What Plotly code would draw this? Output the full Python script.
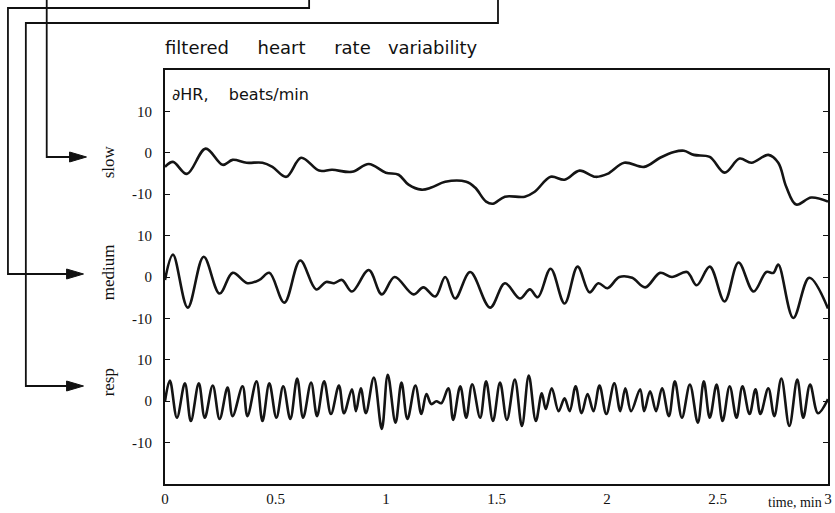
import plotly.graph_objects as go

# ---------------- data (time in minutes, dHR in beats/min) ----------------
slow_t = [0, 0.036, 0.099, 0.184, 0.261, 0.306, 0.369, 0.441, 0.486, 0.549,
          0.616, 0.697, 0.756, 0.846, 0.922, 0.999, 1.057,
          1.102, 1.160, 1.205, 1.268, 1.363, 1.403, 1.453, 1.484, 1.538, 1.628,
          1.673, 1.745, 1.808, 1.876, 1.948, 2.002,
          2.078, 2.168, 2.240, 2.303, 2.348, 2.393, 2.465, 2.532, 2.600, 2.654,
          2.730, 2.775, 2.811, 2.856, 2.924, 3.0]
slow_v = [-3.4, -2.2, -5.1, 1.0, -2.9, -1.7, -2.4, -2.4, -3.4, -5.8,
          -1.2, -4.3, -4.1, -4.6, -2.7, -4.8, -5.3,
          -7.7, -8.9, -8.4, -7.0, -7.0, -8.4, -11.8, -12.3, -10.6, -10.6,
          -9.4, -5.8, -6.5, -4.3, -5.8, -5.1,
          -2.4, -3.4, -1.2, 0.2, 0.5, -0.5, -1.0, -4.8, -1.4, -2.4,
          -0.5, -2.4, -8.2, -12.5, -10.8, -11.8]

medium_t = [0, 0.036, 0.103, 0.175, 0.247, 0.306, 0.373, 0.427, 0.472, 0.540,
            0.612, 0.684, 0.729, 0.765, 0.801, 0.846, 0.922, 0.981, 1.039, 1.124,
            1.169, 1.223, 1.268, 1.313, 1.381, 1.471, 1.538, 1.606, 1.651, 1.687,
            1.745, 1.808, 1.867, 1.921, 1.961, 2.002, 2.056, 2.114, 2.173, 2.240,
            2.294, 2.362, 2.406, 2.465, 2.532, 2.595, 2.663, 2.721, 2.753, 2.775,
            2.843, 2.915, 3.0]
medium_v = [-0.7, 5.4, -7.4, 4.9, -4.0, 1.0, -1.5, -0.7, 1.0, -6.2,
            4.0, -3.0, -1.2, -1.5, -0.7, -3.5, 1.7, -4.2, 0.0, -4.2,
            -2.5, -4.7, 0.0, -5.2, 1.2, -7.4, -1.5, -5.2, -3.0, -4.9,
            2.0, -6.4, 2.5, -3.7, -1.5, -2.7, 0.0, -0.2, -2.5, 1.0,
            0.0, 1.2, -2.0, 2.5, -5.9, 3.5, -3.5, 1.2, 1.0, 3.0,
            -9.9, -0.2, -7.6]

resp_t = [0, 0.022, 0.054, 0.090, 0.117, 0.153, 0.180, 0.216, 0.247, 0.283,
          0.306, 0.351, 0.373, 0.414, 0.441, 0.472, 0.504, 0.535, 0.567, 0.598,
          0.625, 0.661, 0.688, 0.720, 0.751, 0.787, 0.810, 0.846, 0.864, 0.886,
          0.909, 0.945, 0.981, 1.008, 1.043, 1.070, 1.097, 1.133, 1.160, 1.183,
          1.205, 1.228, 1.250, 1.282, 1.304, 1.336, 1.363, 1.390, 1.426, 1.453,
          1.484, 1.516, 1.547, 1.583, 1.615, 1.646, 1.678, 1.705, 1.723, 1.750,
          1.781, 1.808, 1.831, 1.858, 1.885, 1.912, 1.939, 1.966, 1.997, 2.033,
          2.060, 2.083, 2.109, 2.150, 2.168, 2.195, 2.222, 2.249, 2.280, 2.307,
          2.339, 2.375, 2.411, 2.438, 2.465, 2.496, 2.523, 2.555, 2.586, 2.613,
          2.645, 2.672, 2.694, 2.730, 2.757, 2.789, 2.825, 2.861, 2.888, 2.919,
          2.955, 3.0]
resp_v = [0.0, 5.0, -4.0, 4.3, -4.8, 4.3, -4.0, 3.8, -4.3, 3.3,
          -3.6, 3.6, -3.6, 4.8, -4.8, 4.3, -4.0, 3.6, -4.3, 5.5,
          -4.0, 4.5, -3.6, 4.8, -3.1, 3.8, -2.9, 2.9, -2.4, 3.1,
          -2.9, 5.7, -6.7, 6.4, -5.2, 4.5, -4.3, 3.8, -3.1, 1.7,
          -0.7, 0.0, -0.5, 3.1, -4.5, 3.6, -4.0, 4.1, -4.0, 4.8,
          -4.8, 4.5, -4.5, 5.2, -6.0, 6.2, -4.8, 1.9, -1.9, 3.1,
          -2.4, 0.7, -2.4, 3.6, -2.9, 1.7, -2.4, 3.8, -3.1, 4.3,
          -2.4, 3.1, -2.4, 2.9, -2.4, 2.4, -2.4, 3.1, -3.6, 4.8,
          -4.0, 4.0, -5.2, 4.8, -4.0, 4.0, -4.8, 3.6, -4.0, 3.6,
          -3.1, 2.9, -3.1, 3.1, -3.6, 5.5, -6.0, 5.2, -4.0, 4.0,
          -2.9, 0.5]

x_ticks = [0, 0.5, 1, 1.5, 2, 2.5, 3]
x_tick_labels = ["0", "0.5", "1", "1.5", "2", "2.5", "3"]
y_ticks = [10, 0, -10, -20, -30, -40, -50, -60, -70]
y_tick_labels = ["10", "0", "-10", "10", "0", "-10", "10", "0", "-10"]
band_names = ["slow", "medium", "resp"]
band_offsets = [0, -30, -60]

# ---------------- figure ----------------
W, H = 835, 513
L, R, T, B = 165, 832, 70, 484


def pxx(x):
    return (x - L) / (R - L)


def pyy(y):
    return (B - y) / (B - T)


fig = go.Figure()
series = [(slow_t, slow_v), (medium_t, medium_v), (resp_t, resp_v)]
for (t, v), off, name in zip(series, band_offsets, band_names):
    fig.add_trace(go.Scatter(
        x=t, y=[val + off for val in v], mode="lines", name=name,
        line=dict(color="#141414", width=2.6, shape="spline", smoothing=1.0),
        hoverinfo="skip"))

serif = "Liberation Serif, Times New Roman, serif"
sans = "DejaVu Sans, Verdana, sans-serif"

fig.update_layout(
    width=W, height=H,
    margin=dict(l=L, r=W - R, t=T, b=H - B, pad=0),
    paper_bgcolor="white", plot_bgcolor="white",
    showlegend=False,
    xaxis=dict(range=[0, 3], tickvals=x_ticks, ticktext=x_tick_labels,
               showgrid=False, zeroline=False, showline=True, linecolor="#111",
               linewidth=2, mirror=True, ticks="",
               tickfont=dict(family=serif, size=15, color="#111")),
    yaxis=dict(range=[-80, 20], tickvals=y_ticks, ticktext=y_tick_labels,
               showgrid=False, zeroline=False, showline=True, linecolor="#111",
               linewidth=2, mirror="ticks", ticks="inside", ticklen=5,
               tickwidth=1.2, tickcolor="#111", ticklabelstandoff=8,
               tickfont=dict(family=serif, size=15, color="#111")),
)

nb = "\u00a0"
annotations = [
    dict(text="filtered" + nb * 4 + " heart" + nb * 4 + " rate" + nb * 2
         + " variability",
         xref="paper", yref="paper", x=pxx(163), y=pyy(48),
         xanchor="left", yanchor="middle", showarrow=False,
         font=dict(family=sans, size=18, color="#111")),
    dict(text="\u2202HR," + nb * 3 + " beats/min", xref="paper", yref="paper",
         x=pxx(170), y=pyy(94), xanchor="left", yanchor="middle",
         showarrow=False, font=dict(family=sans, size=16, color="#111")),
    dict(text="time, min", xref="paper", yref="paper", x=pxx(828),
         y=pyy(502), xanchor="right", yanchor="middle", showarrow=False,
         font=dict(family=serif, size=14, color="#111")),
]
label_centres = [162, 272, 382]
for name, yc in zip(band_names, label_centres):
    annotations.append(dict(text=name, xref="paper", yref="paper",
                            x=pxx(108), y=pyy(yc), textangle=-90,
                            xanchor="center", yanchor="middle",
                            showarrow=False,
                            font=dict(family=serif, size=17, color="#111")))
fig.update_layout(annotations=annotations)

# connector lines (pixel paths converted to paper coords)
connectors = [
    [(46, 0), (46, 157), (70, 157)],
    [(310, 0), (310, 8), (7, 8), (7, 274), (67, 274)],
    [(500, 0), (500, 23), (25, 23), (25, 386), (67, 386)],
]
shapes = []
for pts in connectors:
    d = "M " + " L ".join(f"{pxx(x):.5f},{pyy(y):.5f}" for x, y in pts)
    shapes.append(dict(type="path", xref="paper", yref="paper", path=d,
                       line=dict(color="#111", width=1.8)))
heads = [(86, 157), (83, 274), (83, 386)]
for xt, yt in heads:
    d = (f"M {pxx(xt):.5f},{pyy(yt):.5f} L {pxx(xt-17):.5f},{pyy(yt-5):.5f} "
         f"L {pxx(xt-17):.5f},{pyy(yt+5):.5f} Z")
    shapes.append(dict(type="path", xref="paper", yref="paper", path=d,
                       fillcolor="#111", line=dict(color="#111", width=1)))
fig.update_layout(shapes=shapes)

fig.write_html("out.html")
